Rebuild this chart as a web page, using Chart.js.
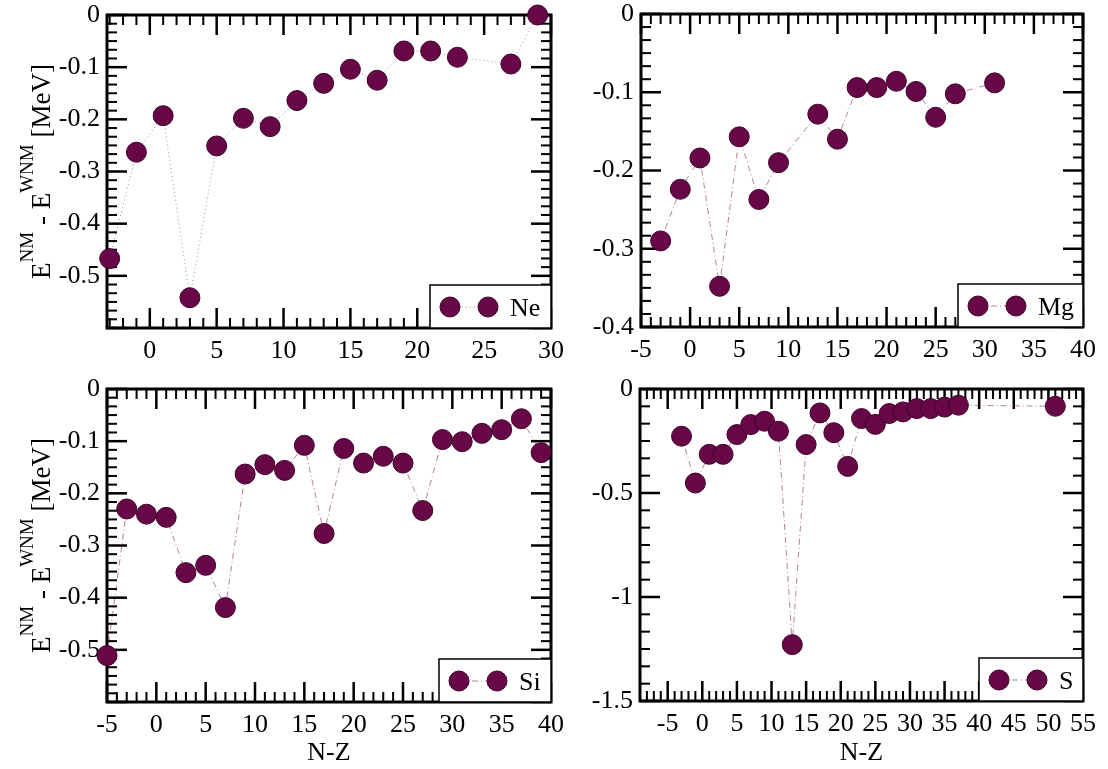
<!DOCTYPE html>
<html>
<head>
<meta charset="utf-8">
<script src="https://cdn.jsdelivr.net/npm/chart.js"></script>
<style>
  body { margin: 0; background: #fff; }
  #wrap { position: relative; width: 1108px; height: 769px; background: #fff; }
  canvas { position: absolute; }
</style>
</head>
<body>
<div id="wrap">
  <canvas id="ne" width="580" height="375" style="left:0;top:0;width:580px;height:375px"></canvas>
  <canvas id="mg" width="548" height="375" style="left:560px;top:0;width:548px;height:375px"></canvas>
  <canvas id="si" width="580" height="394" style="left:0;top:375px;width:580px;height:394px"></canvas>
  <canvas id="s" width="548" height="394" style="left:560px;top:375px;width:548px;height:394px"></canvas>
</div>
<script>
// values (N-Z, E_NM - E_WNM in MeV)
const neX = [-3, -1, 1, 3, 5, 7, 9, 11, 13, 15, 17, 19, 21, 23, 27, 29];
const neY = [-0.467, -0.263, -0.193, -0.542, -0.251, -0.198, -0.214, -0.164, -0.131, -0.104, -0.125, -0.069, -0.069, -0.081, -0.094, 0];

const mgX = [-3, -1, 1, 3, 5, 7, 9, 13, 15, 17, 19, 21, 23, 25, 27, 31];
const mgY = [-0.29, -0.224, -0.184, -0.348, -0.157, -0.237, -0.19, -0.128, -0.16, -0.094, -0.094, -0.086, -0.099, -0.132, -0.102, -0.088];

const siX = [-5, -3, -1, 1, 3, 5, 7, 9, 11, 13, 15, 17, 19, 21, 23, 25, 27, 29, 31, 33, 35, 37, 39];
const siY = [-0.511, -0.23, -0.24, -0.246, -0.352, -0.338, -0.419, -0.163, -0.145, -0.156, -0.108, -0.277, -0.114, -0.142, -0.129, -0.142, -0.233, -0.097, -0.101, -0.085, -0.078, -0.057, -0.122];

const sX = [-3, -1, 1, 3, 5, 7, 9, 11, 13, 15, 17, 19, 21, 23, 25, 27, 29, 31, 33, 35, 37, 51];
const sY = [-0.227, -0.452, -0.314, -0.314, -0.219, -0.171, -0.155, -0.203, -1.229, -0.267, -0.115, -0.21, -0.372, -0.142, -0.17, -0.118, -0.11, -0.094, -0.094, -0.087, -0.078, -0.083];

// tick labels
const neXTicks = [0, 5, 10, 15, 20, 25, 30];
const neYTicks = [0, -0.1, -0.2, -0.3, -0.4, -0.5];
const mgXTicks = [-5, 0, 5, 10, 15, 20, 25, 30, 35, 40];
const mgYTicks = [0, -0.1, -0.2, -0.3, -0.4];
const siXTicks = [-5, 0, 5, 10, 15, 20, 25, 30, 35, 40];
const siYTicks = [0, -0.1, -0.2, -0.3, -0.4, -0.5];
const sXTicks = [-5, 0, 5, 10, 15, 20, 25, 30, 35, 40, 45, 50, 55];
const sYTicks = [0, -0.5, -1, -1.5];

const yTitleParts = [["E", false], ["NM", true], [" - E", false], ["WNM", true], [" [MeV]", false]];
const xTitle = "N-Z";

const SERIF = '"Liberation Serif", "Times New Roman", serif';
const MAROON = "#670748";
const LINE = "rgba(103,7,72,0.5)";

function makePanel(id, xs, ys, label, cfg) {
  const points = xs.map((x, i) => ({ x: x, y: ys[i] }));

  // box with inward ticks on all four sides (ticks as thin filled rects)
  const framePlugin = {
    id: "frame_" + id,
    beforeDatasetsDraw(chart) {
      const ctx = chart.ctx, a = chart.chartArea;
      const sx = chart.scales.x, sy = chart.scales.y;
      const marks = (scale, major, div) => {
        const step = major / div, out = [];
        const k0 = Math.ceil(scale.min / step - 1e-6), k1 = Math.floor(scale.max / step + 1e-6);
        for (let k = k0; k <= k1; k++) out.push({ p: scale.getPixelForValue(k * step), big: k % div === 0 });
        return out;
      };
      ctx.save();
      ctx.fillStyle = "#000";
      marks(sx, cfg.xMajor, 5).forEach(t => {
        const len = t.big ? 20 : 10, w = t.big ? 2.5 : 2;
        ctx.fillRect(t.p - w / 2, a.bottom - len, w, len);
        ctx.fillRect(t.p - w / 2, a.top, w, len);
      });
      marks(sy, cfg.yMajor, 6).forEach(t => {
        const len = t.big ? 20 : 10, w = t.big ? 2.5 : 2;
        ctx.fillRect(a.left, t.p - w / 2, len, w);
        ctx.fillRect(a.right - len, t.p - w / 2, len, w);
      });
      ctx.strokeStyle = "#000";
      ctx.lineWidth = 3;
      ctx.strokeRect(a.left, a.top, a.width, a.height);
      ctx.restore();
    }
  };

  // legend box in the lower right corner: marker - line - marker, label
  const boxLegend = {
    id: "legend_" + id,
    afterDraw(chart) {
      const ctx = chart.ctx, a = chart.chartArea;
      const w = cfg.legendWidth, h = 43;
      const l = a.right - w, t = a.bottom - h, cy = t + h / 2 + 0.5;
      ctx.save();
      ctx.fillStyle = "#fff";
      ctx.fillRect(l, t, w, h);
      ctx.strokeStyle = "#000";
      ctx.lineWidth = 1.5;
      ctx.strokeRect(l, t, w, h);
      ctx.strokeStyle = LINE;
      ctx.lineWidth = 1;
      ctx.setLineDash(cfg.dash);
      ctx.beginPath(); ctx.moveTo(l + 20, cy); ctx.lineTo(l + 58, cy); ctx.stroke();
      ctx.setLineDash([]);
      [20, 58].forEach(dx => {
        ctx.beginPath();
        ctx.arc(l + dx, cy, 10, 0, Math.PI * 2);
        ctx.fillStyle = MAROON;
        ctx.fill();
        ctx.strokeStyle = "#3f0229";
        ctx.lineWidth = 1;
        ctx.stroke();
      });
      ctx.fillStyle = "#000";
      ctx.font = "26px " + SERIF;
      ctx.textBaseline = "alphabetic";
      ctx.fillText(label, l + 80, a.bottom - 12);
      ctx.restore();
    }
  };

  // rotated y title with superscripts
  const yTitle = {
    id: "ytitle_" + id,
    afterDraw(chart) {
      if (!cfg.yTitle) return;
      const ctx = chart.ctx, a = chart.chartArea;
      const fontOf = sup => (sup ? "19px " : "27px ") + SERIF;
      ctx.save();
      let total = 0;
      yTitleParts.forEach(([txt, sup]) => { ctx.font = fontOf(sup); total += ctx.measureText(txt).width; });
      ctx.translate(50, (a.top + a.bottom) / 2);
      ctx.rotate(-Math.PI / 2);
      ctx.fillStyle = "#000";
      ctx.textBaseline = "alphabetic";
      ctx.textAlign = "left";
      let px = -total / 2;
      yTitleParts.forEach(([txt, sup]) => {
        ctx.font = fontOf(sup);
        ctx.fillText(txt, px, sup ? -17 : 0);
        px += ctx.measureText(txt).width;
      });
      ctx.restore();
    }
  };

  return new Chart(document.getElementById(id), {
    type: "scatter",
    data: {
      datasets: [{
        label: label,
        data: points,
        showLine: true,
        borderColor: LINE,
        borderWidth: 1,
        borderDash: cfg.dash,
        backgroundColor: MAROON,
        pointBackgroundColor: MAROON,
        pointBorderColor: "#3f0229",
        pointBorderWidth: 1,
        pointRadius: 10,
        pointHoverRadius: 10,
        clip: false
      }]
    },
    options: {
      responsive: false,
      devicePixelRatio: 1,
      animation: false,
      events: [],
      layout: { padding: cfg.pad },
      plugins: {
        legend: { display: false },
        tooltip: { enabled: false }
      },
      scales: {
        x: {
          type: "linear",
          min: cfg.xMin, max: cfg.xMax,
          afterBuildTicks: s => { s.ticks = cfg.xTicks.map(v => ({ value: v })); },
          afterFit: s => { s.height = cfg.xH; s.paddingLeft = 0; s.paddingRight = 0; },
          grid: { display: false, drawTicks: false },
          border: { display: false },
          ticks: {
            autoSkip: false, maxRotation: 0, padding: 8,
            color: "#000", font: { family: SERIF, size: 26 },
            callback: v => String(v)
          },
          title: {
            display: cfg.xTitle, text: xTitle, color: "#000",
            font: { family: SERIF, size: 26 }, padding: { top: 0, bottom: 0 }
          }
        },
        y: {
          type: "linear",
          min: cfg.yMin, max: 0,
          afterBuildTicks: s => { s.ticks = cfg.yTicks.map(v => ({ value: v })); },
          afterFit: s => { s.width = cfg.yW; s.paddingTop = 0; s.paddingBottom = 0; },
          grid: { display: false, drawTicks: false },
          border: { display: false },
          ticks: {
            autoSkip: false, padding: 7,
            color: "#000", font: { family: SERIF, size: 26 },
            callback: v => String(v)
          }
        }
      }
    },
    plugins: [framePlugin, boxLegend, yTitle]
  });
}

const DOT = [1, 3];
const DASHDOT = [6, 3, 1, 3];

makePanel("ne", neX, neY, "Ne", {
  dash: DOT, xMin: -3.2, xMax: 30, yMin: -0.6, xTicks: neXTicks, yTicks: neYTicks,
  pad: { left: 0, top: 15, right: 29, bottom: 0 }, yW: 107, xH: 47,
  xMajor: 5, yMajor: 0.1, legendWidth: 121, yTitle: true, xTitle: false
});
makePanel("mg", mgX, mgY, "Mg", {
  dash: DASHDOT, xMin: -5, xMax: 40, yMin: -0.4, xTicks: mgXTicks, yTicks: mgYTicks,
  pad: { left: 0, top: 14, right: 25, bottom: 0 }, yW: 81, xH: 48,
  xMajor: 5, yMajor: 0.1, legendWidth: 125, yTitle: false, xTitle: false
});
makePanel("si", siX, siY, "Si", {
  dash: DASHDOT, xMin: -5, xMax: 40, yMin: -0.6, xTicks: siXTicks, yTicks: siYTicks,
  pad: { left: 0, top: 14, right: 29, bottom: 0 }, yW: 107, xH: 67,
  xMajor: 5, yMajor: 0.1, legendWidth: 112, yTitle: true, xTitle: true
});
makePanel("s", sX, sY, "S", {
  dash: DASHDOT, xMin: -9, xMax: 55, yMin: -1.5, xTicks: sXTicks, yTicks: sYTicks,
  pad: { left: 0, top: 14, right: 25, bottom: 0 }, yW: 80, xH: 68,
  xMajor: 5, yMajor: 0.5, legendWidth: 104, yTitle: false, xTitle: true
});
</script>
</body>
</html>
